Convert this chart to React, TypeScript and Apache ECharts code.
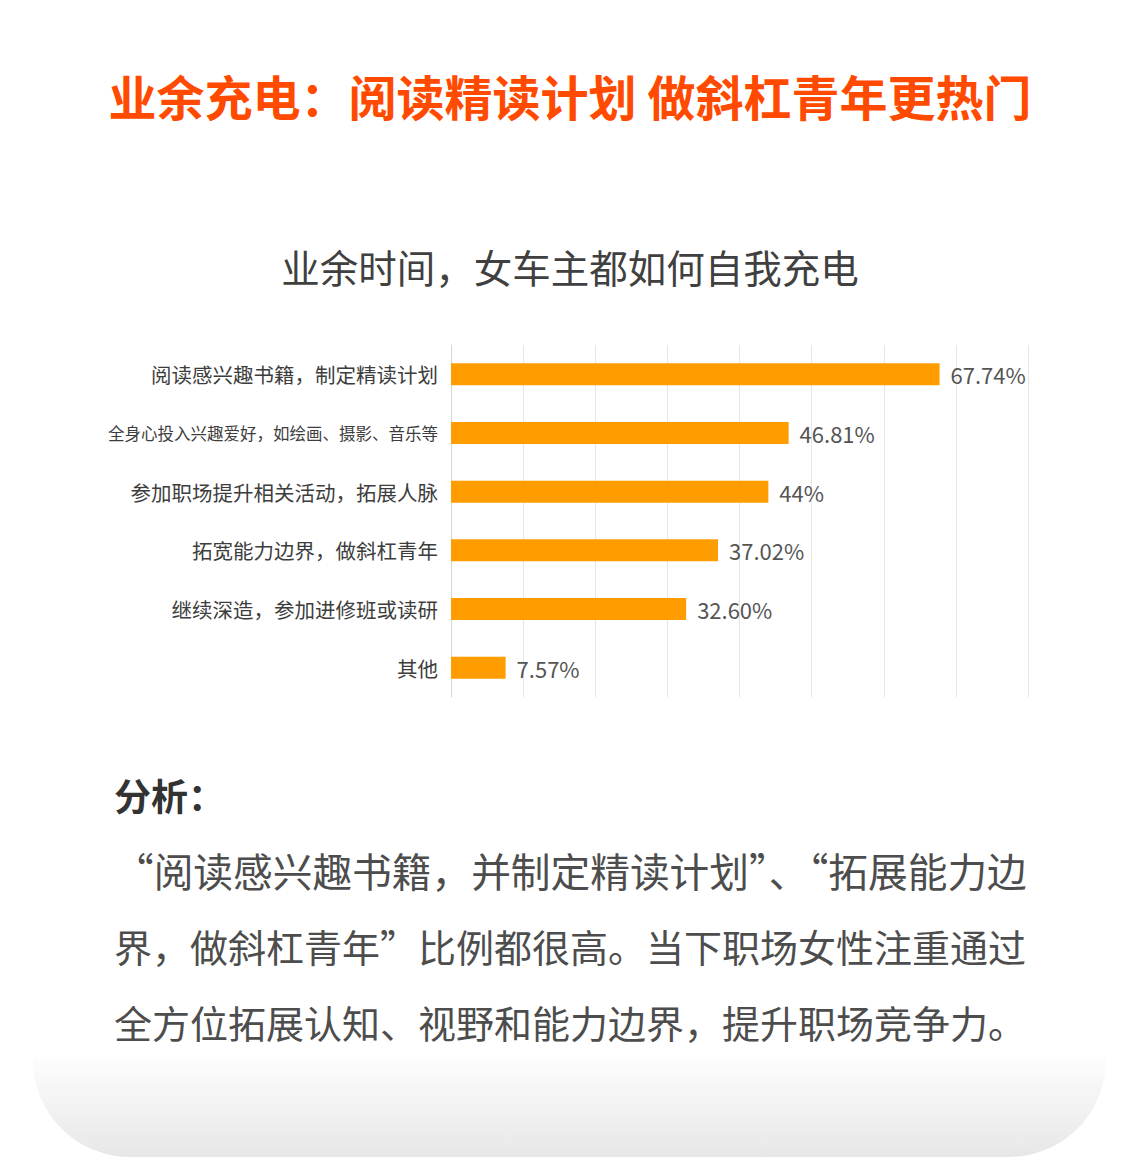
import React, { useEffect, useRef } from "react";
import * as echarts from "echarts";

const categories = [
  "阅读感兴趣书籍，制定精读计划",
  "全身心投入兴趣爱好，如绘画、摄影、音乐等",
  "参加职场提升相关活动，拓展人脉",
  "拓宽能力边界，做斜杠青年",
  "继续深造，参加进修班或读研",
  "其他",
];
const values = [67.74, 46.81, 44, 37.02, 32.6, 7.57];
const valueLabels = ["67.74%", "46.81%", "44%", "37.02%", "32.60%", "7.57%"];
const axisMax = 80;
const axisInterval = 10;

const titleText = "业余充电：阅读精读计划 做斜杠青年更热门";
const subtitleText = "业余时间，女车主都如何自我充电";
const analysisHead = "分析：";
const analysisLines = [
  "“阅读感兴趣书籍，并制定精读计划”、“拓展能力边",
  "界，做斜杠青年”比例都很高。当下职场女性注重通过",
  "全方位拓展认知、视野和能力边界，提升职场竞争力。",
];

const FONT = "'Noto Sans CJK SC', 'Noto Sans', sans-serif";

export default function App() {
  const ref = useRef<HTMLDivElement>(null);
  useEffect(() => {
    document.body.style.margin = "0";
    const chart = echarts.init(ref.current!, undefined, { renderer: "svg" });
    const lineYs = [869, 945, 1021];
    const lineSizes = [39.7, 38, 38];
    chart.setOption({
      animation: false,
      backgroundColor: "#ffffff",
      textStyle: { fontFamily: FONT },
      grid: { left: 451, right: 110, top: 345, bottom: 469, containLabel: false },
      xAxis: {
        type: "value",
        min: 0,
        max: axisMax,
        interval: axisInterval,
        axisLabel: { show: false },
        axisLine: { show: false },
        axisTick: { show: false },
        splitLine: { show: true, lineStyle: { color: "#e6e6e6", width: 1 } },
      },
      yAxis: {
        type: "category",
        data: categories,
        inverse: true,
        axisLine: { show: true, lineStyle: { color: "#d6d6d6", width: 1 } },
        axisTick: { show: false },
        axisLabel: {
          margin: 13,
          fontSize: 20.5,
          color: "#3d3d3d",
          fontFamily: FONT,
          formatter: (v: string, i: number) => (i === 1 ? "{sm|" + v + "}" : v),
          rich: { sm: { fontSize: 16.5, color: "#3d3d3d", fontFamily: FONT } },
        },
      },
      series: [
        {
          type: "bar",
          data: values,
          barWidth: 22,
          itemStyle: { color: "#ff9c00" },
          label: {
            show: true,
            position: "right",
            distance: 11,
            fontSize: 22,
            color: "#555555",
            fontFamily: FONT,
            formatter: (p: any) => valueLabels[p.dataIndex],
          },
        },
      ],
      graphic: [
        {
          type: "rect",
          z: -10,
          shape: { x: 33, y: 1058, width: 1073, height: 99, r: [0, 0, 97, 97] },
          style: {
            fill: new echarts.graphic.LinearGradient(0, 0, 0, 1, [
              { offset: 0, color: "#fdfdfd" },
              { offset: 1, color: "#e7e7e7" },
            ]),
          },
        },
        {
          type: "text",
          x: 570,
          y: 95,
          style: {
            text: titleText,
            fontSize: 48,
            fontWeight: "bold",
            fill: "#ff4a00",
            fontFamily: FONT,
            textAlign: "center",
            textVerticalAlign: "middle",
          },
        },
        {
          type: "text",
          x: 570,
          y: 266,
          style: {
            text: subtitleText,
            fontSize: 38.5,
            fill: "#404040",
            fontFamily: FONT,
            textAlign: "center",
            textVerticalAlign: "middle",
          },
        },
        {
          type: "text",
          x: 114,
          y: 795,
          style: {
            text: analysisHead,
            fontSize: 37,
            fontWeight: "bold",
            fill: "#333333",
            fontFamily: FONT,
            textAlign: "left",
            textVerticalAlign: "middle",
          },
        },
        ...analysisLines.map((t, i) => ({
          type: "text",
          x: 114,
          y: lineYs[i],
          style: {
            text: t,
            fontSize: lineSizes[i],
            fill: "#4d4d4d",
            fontFamily: FONT,
            textAlign: "left",
            textVerticalAlign: "middle",
          },
        })),
      ],
    });
    return () => chart.dispose();
  }, []);
  return <div ref={ref} style={{ width: 1138, height: 1166 }} />;
}
